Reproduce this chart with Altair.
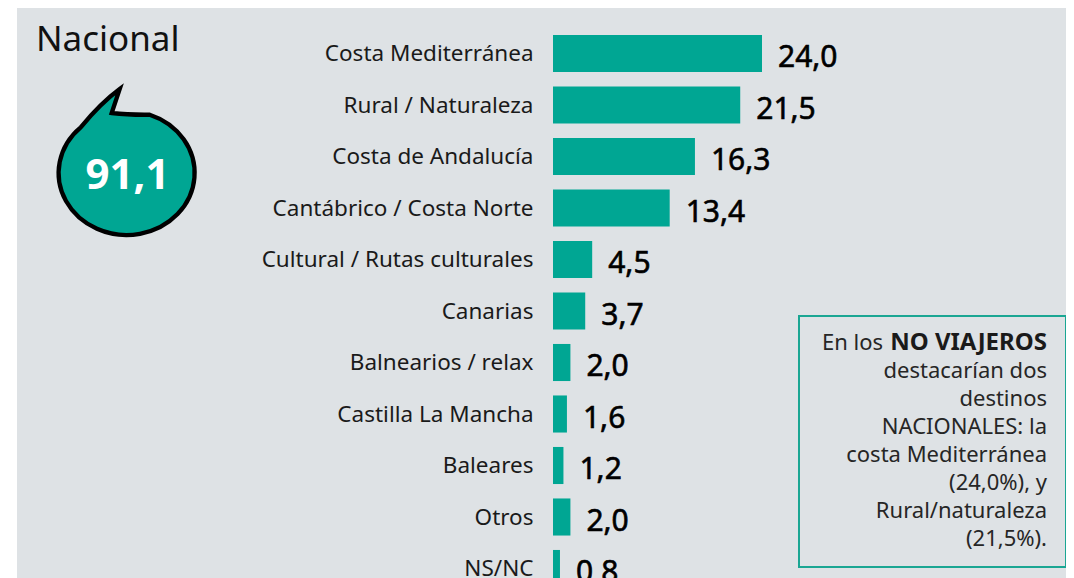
import altair as alt
import pandas as pd

categories = ["Costa Mediterránea", "Rural / Naturaleza", "Costa de Andalucía",
              "Cantábrico / Costa Norte", "Cultural / Rutas culturales", "Canarias",
              "Balnearios / relax", "Castilla La Mancha", "Baleares", "Otros", "NS/NC"]
values = [24.0, 21.5, 16.3, 13.4, 4.5, 3.7, 2.0, 1.6, 1.2, 2.0, 0.8]
title_text = ["Nacional"]
total_value = [91.1]
note_lines = ["destacarían dos", "destinos", "NACIONALES: la",
              "costa Mediterránea", "(24,0%), y", "Rural/naturaleza", "(21,5%)."]
note_first_plain = ["En los"]
note_first_bold = ["NO VIAJEROS"]

TEAL = "#00a693"
BG = "#dee2e5"
FONT = "Noto Sans"

df = pd.DataFrame({"cat": categories, "v": values})
one = pd.DataFrame({"a": [0]})

xs = alt.Scale(domain=[0, 24], range=[545, 754])
ys = alt.Scale(domain=categories, range=[19.75, 586.25], paddingInner=0.28, paddingOuter=0.14)

bg = alt.Chart(one).mark_rect(color=BG).encode(
    x=alt.value(9), x2=alt.value(1080), y=alt.value(0), y2=alt.value(600))

bars = alt.Chart(df).mark_bar(color=TEAL).encode(
    x=alt.X("v:Q", scale=xs, axis=None),
    y=alt.Y("cat:N", scale=ys, axis=None, sort=categories))

cat_labels = alt.Chart(df).mark_text(
    align="right", baseline="alphabetic", dy=7.5, font=FONT, fontSize=22.5, color="#1a1a1a"
).encode(x=alt.value(525.5), y=alt.Y("cat:N", scale=ys, axis=None, sort=categories), text="cat:N")

val_labels = alt.Chart(df).transform_calculate(
    lab="replace(format(datum.v, '.1f'), '.', ',')"
).mark_text(
    align="left", baseline="alphabetic", dx=16, dy=13.5, font=FONT, fontSize=30,
    color="#000000", stroke="#000000", strokeWidth=0.6
).encode(x=alt.X("v:Q", scale=xs, axis=None),
         y=alt.Y("cat:N", scale=ys, axis=None, sort=categories), text="lab:N")

title = alt.Chart(pd.DataFrame({"t": title_text})).mark_text(
    align="left", baseline="middle", font=FONT, fontSize=35, color="#111111"
).encode(x=alt.value(28), y=alt.value(32), text="t:N")

bubble_path = ("M 23 -58.3 A 68 62 0 1 1 -46 -45.7 Q -26 -70 -7 -84 "
               "L -15 -60 Q 2 -58 23 -58.3 Z")
bubble = alt.Chart(one).mark_point(
    shape=bubble_path, size=4, filled=True, fill=TEAL, stroke="#000000", strokeWidth=4.3, opacity=1
).encode(x=alt.value(118.7), y=alt.value(165))

bubble_text = alt.Chart(pd.DataFrame({"v": total_value})).transform_calculate(
    lab="replace(format(datum.v, '.1f'), '.', ',')"
).mark_text(
    align="center", baseline="middle", font=FONT, fontSize=42, fontWeight="bold", color="white"
).encode(x=alt.value(119.5), y=alt.value(168), text="lab:N")

box = alt.Chart(one).mark_rect(fill=BG, stroke="#1aa693", strokeWidth=2).encode(
    x=alt.value(791), x2=alt.value(1058), y=alt.value(308), y2=alt.value(559))

note_df = pd.DataFrame({"t": note_lines, "i": list(range(1, len(note_lines) + 1))})
note = alt.Chart(note_df).transform_calculate(py="341.5 + datum.i * 28").mark_text(
    align="right", baseline="alphabetic", font=FONT, fontSize=22, color="#262626"
).encode(x=alt.value(1039), y=alt.Y("py:Q", scale=None), text="t:N")

note_bold = alt.Chart(pd.DataFrame({"t": note_first_bold})).mark_text(
    align="right", baseline="alphabetic", font=FONT, fontSize=24, fontWeight="bold", color="#1a1a1a"
).encode(x=alt.value(1039), y=alt.value(341.5), text="t:N")

note_plain = alt.Chart(pd.DataFrame({"t": note_first_plain})).mark_text(
    align="right", baseline="alphabetic", font=FONT, fontSize=22, color="#262626"
).encode(x=alt.value(875), y=alt.value(341.5), text="t:N")

chart = alt.layer(
    bg, bars, cat_labels, val_labels, title, bubble, bubble_text, box, note, note_bold, note_plain
).resolve_scale(y="independent", x="independent").properties(
    width=1058, height=570, autosize=alt.AutoSizeParams(type="none"), padding=0,
    background="white"
).configure_view(stroke=None)

chart.save("out.html", embed_options={"renderer": "svg", "actions": False})
